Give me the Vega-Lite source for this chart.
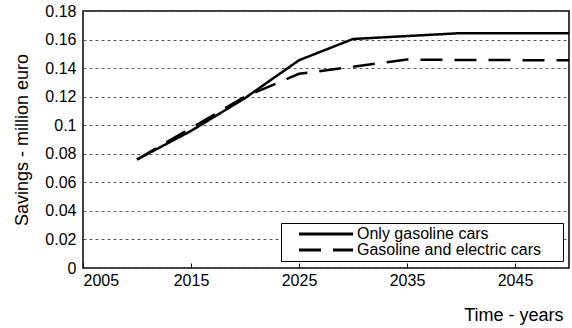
{
  "$schema": "https://vega.github.io/schema/vega-lite/v6.json",
  "width": 486,
  "height": 257,
  "autosize": "none",
  "padding": {"left": 83, "top": 11, "right": 3, "bottom": 60},
  "config": {
    "font": "Liberation Sans",
    "view": {"stroke": "black", "strokeWidth": 1.5},
    "axis": {"labelFontSize": 16, "labelColor": "black", "titleColor": "black", "titleFontWeight": "normal", "titleFontSize": 18, "domain": false, "tickColor": "black"}
  },
  "data": {
    "values": [
      {"year": 2010, "value": 0.076, "series": "Only gasoline cars"},
      {"year": 2015, "value": 0.096, "series": "Only gasoline cars"},
      {"year": 2020, "value": 0.119, "series": "Only gasoline cars"},
      {"year": 2025, "value": 0.1455, "series": "Only gasoline cars"},
      {"year": 2030, "value": 0.1604, "series": "Only gasoline cars"},
      {"year": 2040, "value": 0.1645, "series": "Only gasoline cars"},
      {"year": 2050, "value": 0.1645, "series": "Only gasoline cars"},
      {"year": 2010, "value": 0.076, "series": "Gasoline and electric cars"},
      {"year": 2015, "value": 0.098, "series": "Gasoline and electric cars"},
      {"year": 2020, "value": 0.12, "series": "Gasoline and electric cars"},
      {"year": 2025, "value": 0.136, "series": "Gasoline and electric cars"},
      {"year": 2030, "value": 0.141, "series": "Gasoline and electric cars"},
      {"year": 2035, "value": 0.146, "series": "Gasoline and electric cars"},
      {"year": 2040, "value": 0.1457, "series": "Gasoline and electric cars"},
      {"year": 2050, "value": 0.1455, "series": "Gasoline and electric cars"}
    ]
  },
  "mark": {"type": "line", "color": "black", "strokeWidth": 2.5},
  "encoding": {
    "x": {
      "field": "year", "type": "quantitative",
      "scale": {"domain": [2005, 2050], "nice": false, "zero": false},
      "axis": {"values": [2005, 2015, 2025, 2035, 2045], "format": "d", "grid": false, "tickSize": -5, "labelPadding": 9, "title": "Time - years", "titleAlign": "right", "titleAnchor": "end", "titleX": 480, "titleY": 52, "titleBaseline": "alphabetic"}
    },
    "y": {
      "field": "value", "type": "quantitative",
      "scale": {"domain": [0, 0.18], "nice": false},
      "axis": {"values": [0, 0.02, 0.04, 0.06, 0.08, 0.1, 0.12, 0.14, 0.16, 0.18], "format": "~g", "tickSize": 0, "labelPadding": 7, "gridColor": "#555", "gridDash": [3, 3], "gridWidth": 1, "gridOpacity": 1, "title": "Savings - million euro", "titlePadding": 13}
    },
    "strokeDash": {
      "field": "series", "type": "nominal",
      "scale": {"domain": ["Only gasoline cars", "Gasoline and electric cars"], "range": [[1, 0], [22, 12]]},
      "legend": {
        "title": null, "orient": "none", "legendX": 198, "legendY": 212,
        "strokeColor": "black", "fillColor": "white", "padding": 3,
        "labelFontSize": 16, "labelColor": "black", "labelLimit": 400,
        "symbolType": "M-4.5,0H4.5M38,0", "symbolStrokeColor": "black", "symbolStrokeWidth": 3, "symbolSize": 144,
        "rowPadding": -1,
        "encode": {
          "symbols": {"update": {"x": {"value": 42}}},
          "labels": {"update": {"x": {"value": 73}}}
        }
      }
    }
  }
}
